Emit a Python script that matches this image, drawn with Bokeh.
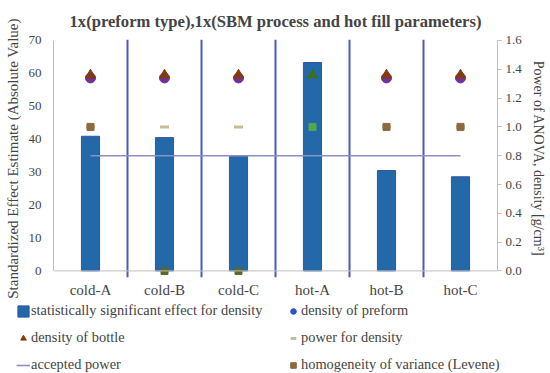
from bokeh.plotting import figure
from bokeh.models import (Range1d, FactorRange, LinearAxis, FixedTicker, Span,
                          Legend, LegendItem, NumeralTickFormatter, ColumnDataSource)
from bokeh.embed import file_html
from bokeh.resources import INLINE

categories = ["cold-A", "cold-B", "cold-C", "hot-A", "hot-B", "hot-C"]
effect = [40.9, 40.5, 34.8, 63.3, 30.5, 28.6]
density_preform = [1.34, 1.34, 1.34, 1.34, 1.34, 1.34]
density_bottle = [1.36, 1.36, 1.36, 1.36, 1.36, 1.36]
power_density = [1.0, 1.0, 1.0, 1.0, 1.0, 1.0]
homogeneity = [1.0, 0.0, 0.0, 1.0, 1.0, 1.0]
accepted_power = 0.8
left_ticks = [0, 10, 20, 30, 40, 50, 60, 70]
right_ticks = [0.0, 0.2, 0.4, 0.6, 0.8, 1.0, 1.2, 1.4, 1.6]
separators = [1, 2, 3, 4, 5]

# per-point styling (colour tints seen in the original)
bottle_colors = ["#843C0C", "#843C0C", "#843C0C", "#3C6E24", "#843C0C", "#843C0C"]
hom_colors = ["#8B6A40", "#56692E", "#56692E", "#55A84A", "#8B6A40", "#8B6A40"]

FONT = "Liberation Serif"
L0, L1 = -2.0, 70.3
ratio = 1.6 / 70.0

BAR = dict(fill_color="#2369A9", line_color="#3355A0", line_width=1)
PRE = dict(marker="circle", size=10, fill_color="#7030A0", line_color="#7030A0")
PRE_LEG = dict(marker="circle", size=8, fill_color="#3050C8", line_color="#3050C8")
BOT = dict(marker="triangle", size=10)
PW = dict(marker="dash", size=9, line_color="#C8BB9A", line_width=3)
HOM = dict(marker="square", size=7)
ACC = dict(line_color="#8A90C0", line_width=1.6)

src = ColumnDataSource(dict(cat=categories, effect=effect, pre=density_preform,
                            bot=density_bottle, pw=power_density, hom=homogeneity,
                            bc=bottle_colors, hc=hom_colors))

p = figure(frame_width=444, frame_height=238,
           x_range=FactorRange(*categories, factor_padding=0, range_padding=0),
           y_range=Range1d(L0, L1), output_backend="svg", toolbar_location=None,
           min_border_left=53, min_border_right=53, min_border_top=39, min_border_bottom=25)
p.extra_y_ranges = {"right": Range1d(L0 * ratio, L1 * ratio)}

p.title.text = "1x(preform type),1x(SBM process and hot fill parameters)"
p.title.text_font = FONT
p.title.text_font_size = "16.6px"
p.title.text_font_style = "bold"
p.title.align = "center"
p.title.standoff = 18
p.outline_line_color = None
p.xgrid.visible = False
p.ygrid.visible = False

# left axis
ya = p.yaxis[0]
ya.bounds = (0, 70)
ya.ticker = FixedTicker(ticks=left_ticks)
ya.axis_label = "Standardized Effect Estimate (Absolute Value)"
ya.axis_label_text_font = FONT
ya.axis_label_text_font_size = "15px"
ya.axis_label_text_font_style = "normal"
ya.axis_label_standoff = 5
ya.major_label_text_font = FONT
ya.major_label_text_font_size = "13px"
ya.major_label_standoff = 6
ya.major_tick_line_color = None
ya.minor_tick_line_color = None
ya.axis_line_color = "#BFBFBF"

# right axis
ra = LinearAxis(y_range_name="right", bounds=(0, 1.6), ticker=FixedTicker(ticks=right_ticks),
                formatter=NumeralTickFormatter(format="0.0"))
ra.axis_label = "Power of ANOVA, density [g/cm³]"
ra.axis_label_text_font = FONT
ra.axis_label_text_font_size = "14px"
ra.axis_label_text_font_style = "normal"
ra.axis_label_standoff = 6
ra.major_label_text_font = FONT
ra.major_label_text_font_size = "13px"
ra.major_label_standoff = 4
ra.major_tick_out = 4
ra.major_tick_in = 0
ra.major_tick_line_color = "#BFBFBF"
ra.minor_tick_line_color = None
ra.axis_line_color = "#BFBFBF"
p.add_layout(ra, "right")

# bottom axis
xa = p.xaxis[0]
xa.axis_line_color = None
xa.major_tick_line_color = None
xa.major_tick_out = 0
xa.major_label_text_font = FONT
xa.major_label_text_font_size = "15px"
xa.major_label_standoff = 4

p.add_layout(Span(location=0, dimension="width", line_color="#BFBFBF", line_width=1))

# circles and power marks behind bars
p.scatter("cat", "pre", source=src, y_range_name="right", **PRE)
p.scatter("cat", "pw", source=src, y_range_name="right", **PW)
p.vbar(x="cat", top="effect", source=src, width=0.245, **BAR)
p.segment(x0=separators, y0=[L0] * 5, x1=separators, y1=[L1] * 5, line_color="#4A5AC0", line_width=2)
p.segment(x0=[0.5], y0=[accepted_power], x1=[5.5], y1=[accepted_power], y_range_name="right", **ACC)
p.scatter("cat", "hom", source=src, y_range_name="right", fill_color="hc", line_color="hc", **HOM)
p.scatter("cat", "bot", source=src, y_range_name="right", fill_color="bc", line_color="bc", **BOT)

# legend strip: same series, drawn out of its visible range so only swatches show
p2 = figure(width=550, height=71,
            x_range=FactorRange(*categories), y_range=Range1d(100, 101),
            x_axis_type=None, y_axis_type=None, output_backend="svg", toolbar_location=None,
            min_border=0, outline_line_color=None)
p2.xgrid.visible = False
p2.ygrid.visible = False
g_bar = p2.vbar(x="cat", top="effect", source=src, width=0.245, **BAR)
g_pre = p2.scatter("cat", "pre", source=src, **PRE_LEG)
g_bot = p2.scatter("cat", "bot", source=src, fill_color="#843C0C", line_color="#843C0C", **BOT)
g_pw = p2.scatter("cat", "pw", source=src, **PW)
g_acc = p2.line("cat", "pw", source=src, **ACC)
g_hom = p2.scatter("cat", "hom", source=src, fill_color="#8B6A40", line_color="#8B6A40", **HOM)


def make_legend(items, loc):
    lg = Legend(items=items, location=loc, orientation="vertical")
    lg.label_text_font = FONT
    lg.label_text_font_size = "14.4px"
    lg.border_line_color = None
    lg.background_fill_alpha = 0
    lg.glyph_width = 14
    lg.glyph_height = 14
    lg.label_standoff = 1
    lg.label_height = 14
    lg.spacing = 10
    lg.padding = 0
    lg.margin = 0
    return lg


p2.add_layout(make_legend([
    LegendItem(label="statistically significant effect for density", renderers=[g_bar]),
    LegendItem(label="density of bottle", renderers=[g_bot]),
    LegendItem(label="accepted power", renderers=[g_acc]),
], (16, 0)))
p2.add_layout(make_legend([
    LegendItem(label="density of preform", renderers=[g_pre]),
    LegendItem(label="power for density", renderers=[g_pw]),
    LegendItem(label="homogeneity of variance (Levene)", renderers=[g_hom]),
], (286, 0)))

open("out.html", "w").write(file_html([p, p2], INLINE))
